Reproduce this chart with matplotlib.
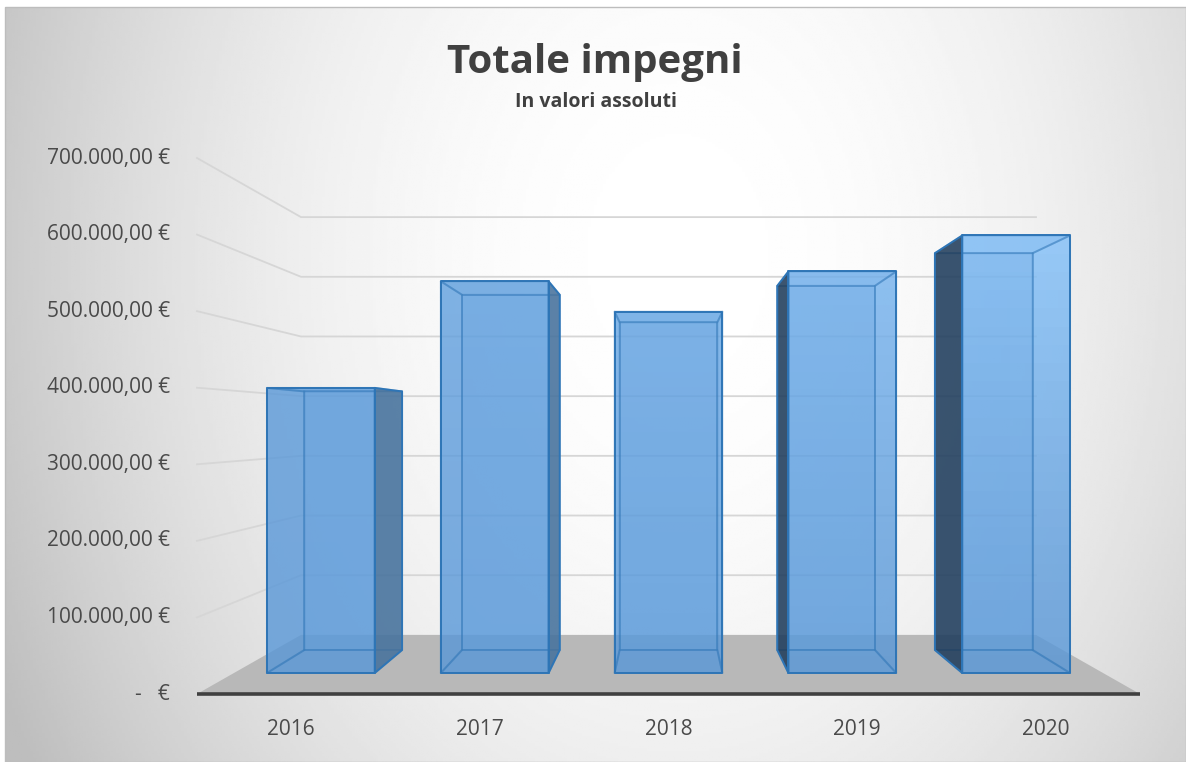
import numpy as np
import matplotlib
matplotlib.use('Agg')
import matplotlib.pyplot as plt
import matplotlib.colors as mcolors
from matplotlib.patches import Rectangle
from mpl_toolkits.mplot3d import proj3d
from mpl_toolkits.mplot3d.art3d import Poly3DCollection

plt.rcParams['font.family'] = ['Open Sans', 'DejaVu Sans']

# data
years = ['2016', '2017', '2018', '2019', '2020']
impegni = [404000, 555000, 512000, 569000, 620000]
y_ticks = [0, 100000, 200000, 300000, 400000, 500000, 600000, 700000]
y_labels = ['-   €', '100.000,00 €', '200.000,00 €', '300.000,00 €',
            '400.000,00 €', '500.000,00 €', '600.000,00 €', '700.000,00 €']

W, H = 1186, 762
fig = plt.figure(figsize=(W / 100, H / 100), dpi=100)
fig.patch.set_facecolor('white')

# background with soft radial gradient
bg = fig.add_axes([5 / W, 0, 1 - 5 / W, 1 - 7 / H])
bg.set_axis_off()
gx, gy = np.meshgrid(np.linspace(0, 1, 400), np.linspace(0, 1, 300))
r2 = ((gx - 0.57) / 0.62) ** 2 + ((gy - 0.33) / 1.3) ** 2
shade = np.clip(255 - 62 * r2, 190, 255) / 255
bg.imshow(shade, cmap='gray', vmin=0, vmax=1, aspect='auto', extent=[0, 1, 1, 0])
bg.set_xlim(0, 1)
bg.set_ylim(1, 0)
fig.patches.append(Rectangle((5 / W, 0), 1 - 5 / W, 1 - 7 / H, transform=fig.transFigure,
                             fill=False, edgecolor='#bdbdbd', lw=1))

# 3d axes, one point perspective like excel
ax = fig.add_axes([0, 0, 1, 1], projection='3d', computed_zorder=False)
ax.set_box_aspect((943, 536, 536))
ba = np.asarray(ax._box_aspect, dtype=float)
q = 735 / 943
f = ba[1] * (1 + q) / (20 * (1 - q))
ax.set_proj_type('persp', focal_length=f)
ax.view_init(elev=0, azim=-90, roll=0)
sf = f / (10 * f - ba[1] / 2)
k = 943 / (ba[0] * sf)
S = 0.185 * k
left = 668.5 - 0.095 * k
bottom = (H - 426) - 0.095 * k
ax.set_position([left / W, bottom / H, S / W, S / H])
n = len(years)
zmax = y_ticks[-1]
ax.set_xlim(0, n)
ax.set_ylim(0, 1)
ax.set_zlim(0, zmax)
ax.set_xticks([])
ax.set_yticks([])
ax.set_zticks([])
ax.set_axis_off()
ax.patch.set_visible(False)

# gridlines on left wall and back wall
for v in y_ticks[1:]:
    ax.plot([0, 0, n], [0, 1, 1], [v, v, v], color='#d6d6d6', lw=1.3, zorder=1)

# floor
floor = Poly3DCollection([[(0, 0, 0), (n, 0, 0), (n, 1, 0), (0, 1, 0)]],
                         facecolor='#b8b8b8', edgecolor='none', zorder=2)
ax.add_collection3d(floor)
ax.plot([0, n], [0, 0], [0, 0], color='#404040', lw=2.6, zorder=3, solid_capstyle='butt')

# bars
xs = np.arange(n) + 0.19
bw, by0, bd = 0.62, 0.30, 0.394
lo = np.array(mcolors.to_rgb('#5493d4'))
hi = np.array(mcolors.to_rgb('#86c4fd'))
none = (0, 0, 0, 0)

# front faces with a soft gradient (lighter towards top right)
nseg = 24
sx, sz, sh, seg_cols = [], [], [], []
for i, v in enumerate(impegni):
    xf = (i + 0.5) / n
    for j in range(nseg):
        z0 = v * j / nseg
        zf = (z0 + v / nseg / 2) / zmax
        t = np.clip(0.08 + 1.1 * (xf * zf) ** 1.3, 0, 1)
        c = tuple(lo + t * (hi - lo)) + (0.8,)
        sx.append(xs[i])
        sz.append(z0)
        sh.append(v / nseg)
        seg_cols += [none, none, c, none, none, none]
ax.bar3d(sx, np.full(len(sx), by0), sz, bw, bd, sh, color=seg_cols,
         edgecolor='none', linewidth=0, antialiased=False, shade=False, zorder=4)

# box outline, back / side / top faces
edge = mcolors.to_rgba('#2e75b6')
edge_soft = mcolors.to_rgba('#2e75b6', 0.35)
face_cols, edge_cols = [], []
for i, v in enumerate(impegni):
    cx = i + 0.5
    base = tuple(lo + 0.3 * (hi - lo))
    dark = '#45709a' if cx < n / 2 else '#1e3a58'
    side_vis = mcolors.to_rgba(dark, 0.85)
    lf, rf = none, none
    le, re = edge_soft, edge_soft
    if cx < n / 2:
        rf, re = side_vis, edge
    elif cx > n / 2:
        lf, le = side_vis, edge
    face_cols += [base + (0.12,), base + (0.12,), none, base + (0.25,), lf, rf]
    edge_cols += [edge_soft, edge_soft, edge, edge_soft, le, re]
ax.bar3d(xs, np.full(n, by0), np.zeros(n), bw, bd, impegni, color=face_cols,
         edgecolor=edge_cols, linewidth=1.4, shade=False, zorder=5)

# tick labels: project the 3d anchor points and place plain 2d texts
M = ax.get_proj()


def to_fig(x, y, z):
    px, py, _ = proj3d.proj_transform(x, y, z, M)
    return fig.transFigure.inverted().transform(ax.transData.transform((px, py)))


for v, lab in zip(y_ticks, y_labels):
    fx, fy = to_fig(-0.143, 0, v)
    fig.text(fx, fy, lab, ha='right', va='center', fontsize=15, color='#4a4a4a')
for i, yr in enumerate(years):
    fx, fy = to_fig(i + 0.5, 0, -46000)
    fig.text(fx, fy, yr, ha='center', va='center', fontsize=15, color='#4a4a4a')

# titles
fig.text(594.5 / W, 1 - 73 / H, 'Totale impegni', ha='center', va='baseline',
         fontsize=29, fontweight='bold', color='#404040')
fig.text(596 / W, 1 - 107 / H, 'In valori assoluti', ha='center', va='baseline',
         fontsize=14, fontweight='bold', color='#404040')

fig.savefig('out.png', dpi=100)
